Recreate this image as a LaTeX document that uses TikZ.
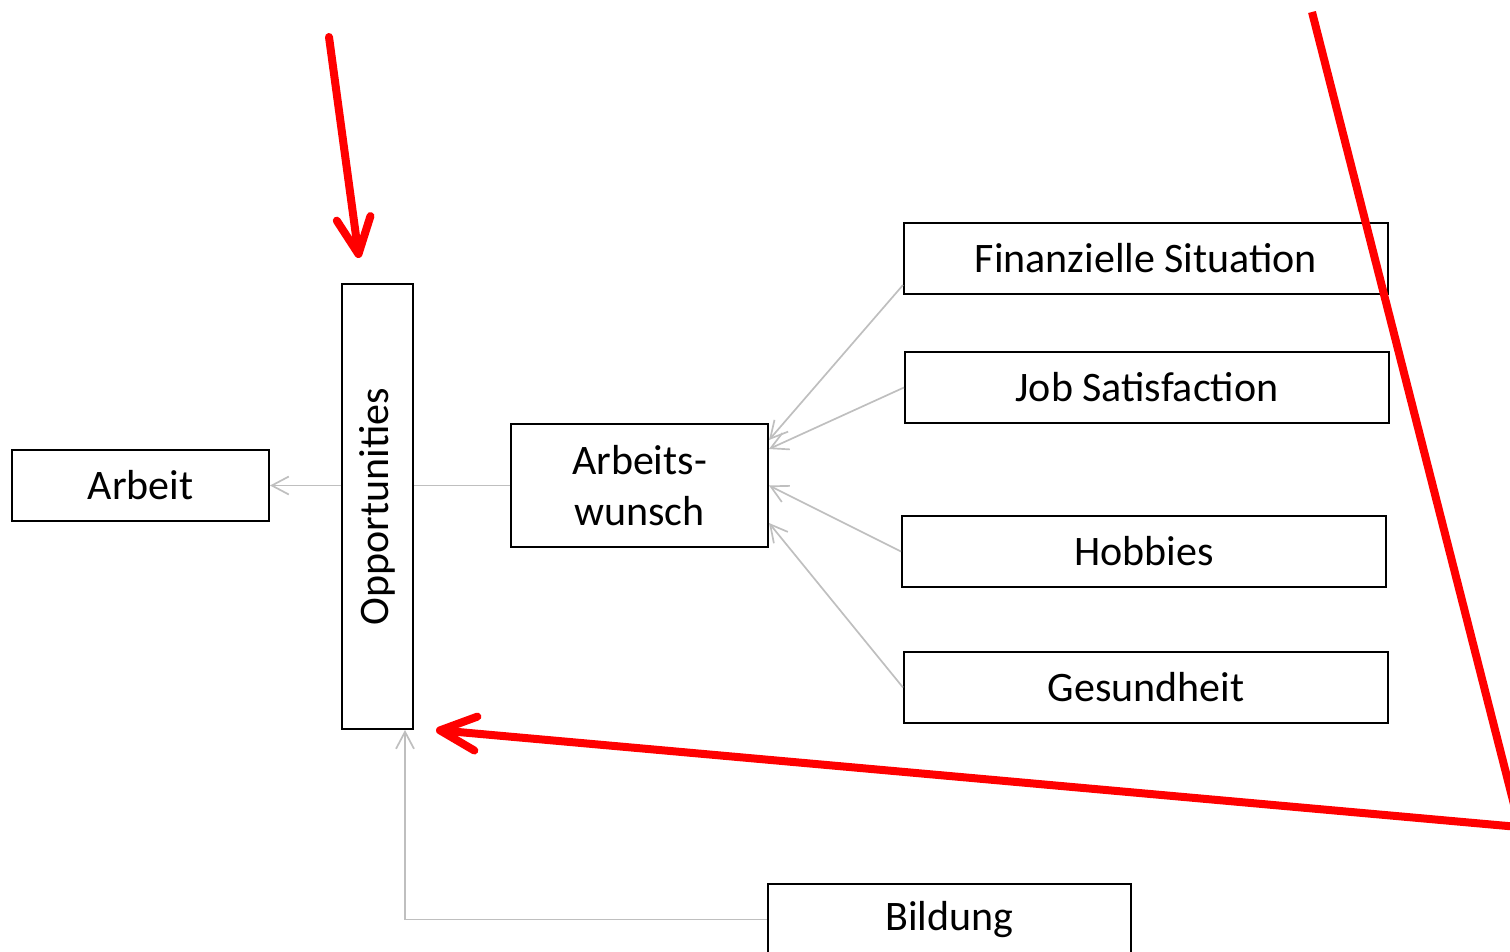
\documentclass[tikz,border=0pt]{standalone}
\usepackage{fontspec}
\setmainfont{Carlito}
\usetikzlibrary{arrows.meta}
\definecolor{linkgray}{RGB}{191,191,191}
\tikzset{
  box/.style={draw, line width=1pt, minimum height=35.5pt, inner sep=0pt,
    align=center, font=\fontsize{21}{25.5}\selectfont},
  link/.style={draw=linkgray, line width=0.85pt},
  linkarrow/.style={-{Straight Barb[length=8.5pt,width=9pt]}},
  hint/.style={draw=red, line width=4pt, line cap=round,
    -{Straight Barb[length=18pt,width=17pt,round]}}
}
\begin{document}
\begin{tikzpicture}[x=0.5pt,y=-0.5pt]
      \useasboundingbox (0,0) rectangle (1510,952);
      \clip (0,0) rectangle (1510,952);
      \node[box, minimum width=128.5pt] (arbeit) at (140.5,485.5) {Arbeit};
      \node[box, minimum width=35.5pt, minimum height=222.5pt] (opp) at (377.5,506.5) {\rotatebox{90}{Opportunities}};
      \node[box, minimum width=128.5pt, minimum height=61.5pt] (wunsch) at (639.5,485.5) {Arbeits-\\wunsch};
      \node[box, minimum width=242pt] (fin) at (1146,258.5) {Finanzielle Situation};
      \node[box, minimum width=242pt] (job) at (1147,387.5) {Job Satisfaction};
      \node[box, minimum width=242pt] (hob) at (1144,551.5) {Hobbies};
      \node[box, minimum width=242pt] (ges) at (1146,687.5) {Gesundheit};
      \node[box, minimum width=181.5pt] (bildung) at (949.5,919.5) {Bildung};
      \begin{scope}[link]
        \draw[linkarrow] (arbeit.east -| opp.west) to (arbeit.east);
        \draw (wunsch.west) to (wunsch.west -| opp.east);
        \draw[linkarrow] ([yshift=-13.25pt]fin.west) to ([yshift=22.75pt]wunsch.east);
        \draw[linkarrow] (job.west) to ([yshift=18.25pt]wunsch.east);
        \draw[linkarrow] (hob.west) to (wunsch.east);
        \draw[linkarrow] (ges.west) to ([yshift=-18.75pt]wunsch.east);
        \draw[linkarrow] (bildung.west) -| ([xshift=13.75pt]opp.south);
      \end{scope}
      % red marks
      \coordinate (top) at (329,37);
      \coordinate (toptip) at (359,258);
      \coordinate (far) at (1530,828);
      \coordinate (fartip) at (436,730);
      \coordinate (slash) at (1312,12);
      \coordinate (slashend) at (1532,875);
      \draw[hint] (top) -- (toptip);
      \draw[hint] (far) -- (fartip);
      \draw[draw=red, line width=4pt] (slash) -- (slashend);
\end{tikzpicture}
\end{document}
